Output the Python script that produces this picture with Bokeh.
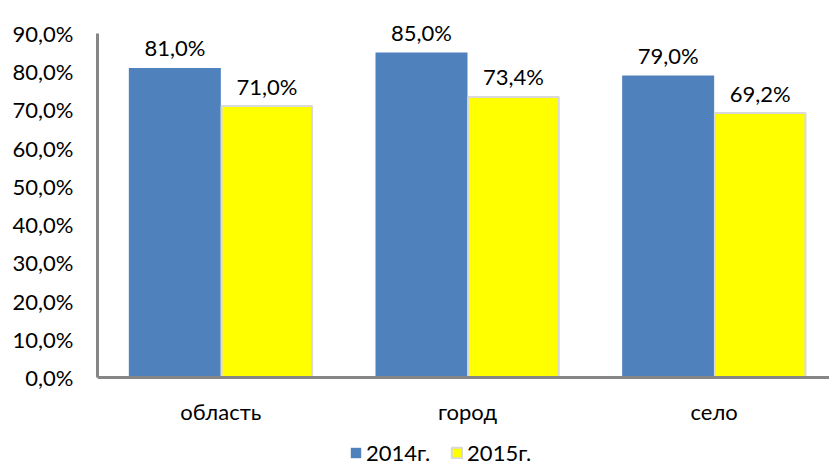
from bokeh.plotting import figure
from bokeh.models import ColumnDataSource, Range1d, FixedTicker, Legend, LegendItem
from bokeh.core.properties import value
from bokeh.embed import file_html
from bokeh.resources import INLINE

categories = ["область", "город", "село"]
series_names = ["2014г.", "2015г."]
values_2014 = [81.0, 85.0, 79.0]
values_2015 = [71.0, 73.4, 69.2]
y_ticks = [0, 10, 20, 30, 40, 50, 60, 70, 80, 90]

def fmt(v):
    return ("%.1f%%" % v).replace(".", ",")

FONT = "Lato"
FS = "22px"

# layout constants (pixels)
W, H = 829, 467
LEFT = 97
Y0_PX = 377       # screen y of the 0 line
YTOP_PX = 33      # screen y of the 90 line
CAT_PX = 246.67   # width of one category slot
ppu = (Y0_PX - YTOP_PX) / 90.0

xc = [i + 0.5 for i in range(len(categories))]
bw = 0.373

src = ColumnDataSource(dict(
    x14=[x - bw / 2 for x in xc],
    x15=[x + bw / 2 for x in xc],
    v14=values_2014,
    v15=values_2015,
    l14=[fmt(v) for v in values_2014],
    l15=[fmt(v) for v in values_2015],
))

p = figure(x_range=Range1d(0, (W - LEFT) / CAT_PX),
           y_range=Range1d(-(H - Y0_PX) / ppu, Y0_PX / ppu),
           width=W, height=H,
           output_backend="svg", toolbar_location=None,
           min_border_left=LEFT, min_border_top=0, min_border_right=0,
           min_border_bottom=0, x_axis_location=None, y_axis_location=None)
p.outline_line_color = None
p.xgrid.grid_line_color = None
p.ygrid.grid_line_color = None

r14 = p.vbar(x="x14", top="v14", width=bw, source=src,
             fill_color="#4F81BD", line_color=None)
r15 = p.vbar(x="x15", top="v15", width=bw - 0.006, source=src,
             fill_color="#FFFF00", line_color="#D9D9D9", line_width=2)

p.text(x="x14", y="v14", text="l14", source=src,
       text_font=value(FONT), text_font_size=FS, text_color="#000000",
       text_align="center", text_baseline="alphabetic", y_offset=-20)
p.text(x="x15", y="v15", text="l15", source=src,
       text_font=value(FONT), text_font_size=FS, text_color="#000000",
       text_align="center", text_baseline="alphabetic", y_offset=-20)

from bokeh.models import LinearAxis
yax = LinearAxis(ticker=FixedTicker(ticks=y_ticks), bounds=(0, 90))
yax.major_label_overrides = {t: fmt(t) for t in y_ticks}
xax = LinearAxis(ticker=FixedTicker(ticks=xc), fixed_location=0)
xax.major_label_overrides = {x: c for x, c in zip(xc, categories)}
for ax in (xax, yax):
    ax.axis_line_color = "#868686"
    ax.axis_line_width = 3
    ax.major_tick_line_color = None
    ax.minor_tick_line_color = None
    ax.major_tick_out = 0
    ax.major_tick_in = 0
    ax.major_label_text_font = FONT
    ax.major_label_text_font_size = FS
    ax.major_label_text_color = "#000000"
yax.major_label_standoff = 24
xax.major_label_standoff = 20
p.add_layout(yax, "left")
p.add_layout(xax, "below")

legend = Legend(items=[LegendItem(label=series_names[0], renderers=[r14]),
                       LegendItem(label=series_names[1], renderers=[r15])],
                orientation="horizontal", location=(252, 1),
                glyph_width=13, glyph_height=13, label_standoff=4, spacing=20,
                label_text_font=FONT, label_text_font_size=FS,
                label_text_color="#000000", border_line_color=None,
                background_fill_alpha=0, padding=0, margin=0)
p.add_layout(legend, "center")

open("out.html", "w").write(file_html(p, INLINE))
